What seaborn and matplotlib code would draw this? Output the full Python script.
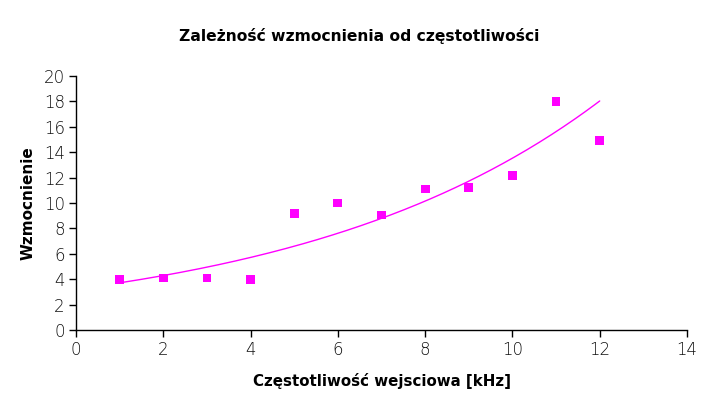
import numpy as np
import pandas as pd
import matplotlib
matplotlib.use("Agg")
import matplotlib.pyplot as plt
import seaborn as sns

# dane z wykresu
czestotliwosc = [1, 2, 3, 4, 5, 6, 7, 8, 9, 10, 11, 12]
wzmocnienie = [4.0, 4.1, 4.1, 3.95, 9.2, 10.0, 9.05, 11.1, 11.2, 12.15, 18.0, 14.95]

df = pd.DataFrame({"f": czestotliwosc, "k": wzmocnienie})

# linia trendu wykładnicza (dopasowanie jak w arkuszu)
b, ln_a = np.polyfit(df["f"], np.log(df["k"]), 1)
xs = np.linspace(min(czestotliwosc), max(czestotliwosc), 200)
trend = pd.DataFrame({"f": xs, "k": np.exp(ln_a) * np.exp(b * xs)})

sns.set_style("white")
plt.rcParams["font.family"] = ["DejaVu Sans"]

fig = plt.figure(figsize=(7.19, 3.98), dpi=100)
ax = fig.add_axes([0.1057, 0.1709, 0.8498, 0.6382])

sns.lineplot(data=trend, x="f", y="k", ax=ax, color="#ff00ff", linewidth=1)
sns.scatterplot(data=df, x="f", y="k", ax=ax, marker="s", s=40, color="#ff00ff",
                edgecolor="none", zorder=3)

ax.set_xlim(0, 14)
ax.set_ylim(0, 20)
ax.set_xticks(range(0, 15, 2))
ax.set_yticks(range(0, 21, 2))
sns.despine(ax=ax)
for s in ["left", "bottom"]:
    ax.spines[s].set_color("black")
    ax.spines[s].set_linewidth(1)
ax.tick_params(axis="both", direction="out", length=5, width=1, color="black",
               labelsize=12, labelcolor="#111111", pad=3, bottom=True, left=True)
for lbl in ax.get_xticklabels() + ax.get_yticklabels():
    lbl.set_fontweight("light")

ax.set_xlabel("Częstotliwość wejsciowa [kHz]", fontsize=10.8, fontweight="bold",
              labelpad=10, color="black")
ax.set_ylabel("Wzmocnienie", fontsize=11, fontweight="bold", labelpad=6, color="black")
fig.suptitle("Zależność wzmocnienia od częstotliwości", fontsize=11.2, fontweight="bold",
             y=0.93, color="black")

fig.savefig("out.png", dpi=100)
